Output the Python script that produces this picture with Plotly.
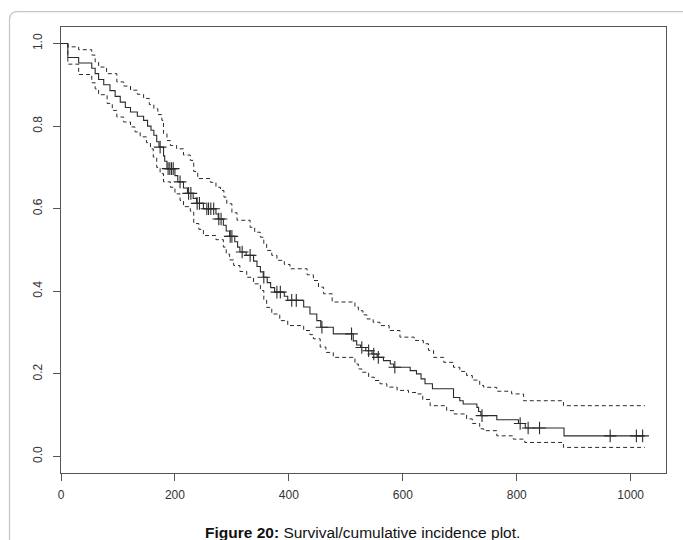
import plotly.graph_objects as go

# Kaplan-Meier estimate (step starts)
km_time = [0, 12, 31, 54, 60, 66, 75, 86, 95, 104, 113, 122, 134, 145, 152, 158, 163, 168, 172,
           180, 182, 186, 200, 205, 215, 222, 232, 238, 250, 272, 276, 285, 290, 296, 305, 310,
           314, 325, 338, 344, 350, 355, 362, 368, 375, 392, 398, 426, 437, 449, 456, 478, 513,
           519, 526, 535, 546, 555, 566, 578, 584, 613, 624, 632, 639, 652, 689, 700, 706, 730,
           733, 737, 765, 803, 815, 883, 1025]
km_surv = [1.0, 0.966, 0.953, 0.94, 0.927, 0.913, 0.90, 0.886, 0.872, 0.858, 0.845, 0.834, 0.824,
           0.814, 0.80, 0.79, 0.778, 0.762, 0.749, 0.728, 0.715, 0.697, 0.680, 0.665, 0.650, 0.637,
           0.625, 0.613, 0.600, 0.587, 0.575, 0.560, 0.546, 0.533, 0.520, 0.507, 0.495, 0.487,
           0.473, 0.460, 0.447, 0.434, 0.421, 0.409, 0.398, 0.388, 0.378, 0.362, 0.345, 0.329,
           0.313, 0.297, 0.280, 0.270, 0.264, 0.256, 0.248, 0.240, 0.232, 0.224, 0.216, 0.208,
           0.200, 0.188, 0.176, 0.164, 0.143, 0.135, 0.127, 0.119, 0.109, 0.099, 0.089, 0.080,
           0.069, 0.050, 0.050]

# Upper confidence limit
up_time = [0, 12, 31, 54, 60, 66, 80, 98, 110, 122, 134, 145, 155, 163, 170, 177, 180, 186, 192,
           203, 215, 227, 233, 240, 262, 272, 280, 286, 291, 300, 309, 332, 340, 350, 356, 361,
           370, 379, 392, 402, 432, 443, 452, 461, 476, 516, 522, 530, 537, 548, 560, 576, 595,
           620, 636, 645, 654, 672, 689, 700, 712, 722, 735, 742, 765, 791, 812, 882, 1025]
up_surv = [1.0, 0.992, 0.985, 0.972, 0.955, 0.943, 0.927, 0.907, 0.897, 0.887, 0.877, 0.867,
           0.852, 0.842, 0.828, 0.814, 0.782, 0.765, 0.753, 0.745, 0.730, 0.717, 0.690, 0.673,
           0.664, 0.652, 0.644, 0.628, 0.612, 0.590, 0.572, 0.555, 0.543, 0.531, 0.515, 0.499,
           0.487, 0.475, 0.465, 0.4545, 0.440, 0.426, 0.410, 0.394, 0.374, 0.362, 0.353, 0.343,
           0.333, 0.325, 0.317, 0.305, 0.289, 0.281, 0.273, 0.257, 0.240, 0.228, 0.216, 0.206,
           0.196, 0.185, 0.172, 0.1675, 0.158, 0.1515, 0.135, 0.123, 0.123]

# Lower confidence limit
lo_time = [0, 12, 31, 54, 60, 66, 81, 90, 98, 110, 122, 130, 139, 150, 157, 162, 168, 174, 180,
           192, 200, 209, 215, 227, 233, 242, 250, 272, 285, 290, 296, 303, 314, 326, 338, 350,
           356, 361, 370, 384, 398, 426, 437, 443, 455, 465, 478, 516, 522, 528, 540, 550, 560,
           572, 590, 610, 624, 635, 648, 677, 690, 712, 722, 735, 742, 765, 794, 814, 882, 1025]
lo_surv = [1.0, 0.950, 0.925, 0.905, 0.89, 0.876, 0.855, 0.838, 0.822, 0.810, 0.798, 0.786,
           0.774, 0.760, 0.745, 0.725, 0.700, 0.685, 0.665, 0.652, 0.636, 0.620, 0.605, 0.594,
           0.564, 0.550, 0.535, 0.525, 0.507, 0.49, 0.476, 0.4625, 0.448, 0.434, 0.418, 0.402,
           0.380, 0.361, 0.345, 0.329, 0.317, 0.305, 0.295, 0.285, 0.265, 0.252, 0.240, 0.224,
           0.212, 0.204, 0.192, 0.184, 0.176, 0.168, 0.160, 0.155, 0.1515, 0.138, 0.123, 0.111,
           0.103, 0.091, 0.080, 0.067, 0.0625, 0.050, 0.042, 0.034, 0.022, 0.022]

# Censoring times
censor_time = [174, 188, 191, 194, 197, 209, 224, 228, 239, 243, 256, 259, 263, 268, 277, 281,
               297, 300, 318, 332, 356, 379, 385, 405, 413, 458, 510, 528, 540, 549, 557, 586,
               739, 806, 820, 840, 964, 1010, 1021]

x_ticks = [0, 200, 400, 600, 800, 1000]
y_ticks = [0.0, 0.2, 0.4, 0.6, 0.8, 1.0]
caption_bold = "Figure 20:"
caption_text = " Survival/cumulative incidence plot."


def surv_at(t):
    s = km_surv[0]
    for tt, ss in zip(km_time, km_surv):
        if tt <= t:
            s = ss
        else:
            break
    return s


censor_surv = [surv_at(t) for t in censor_time]

LINE = "#2b2b2b"
fig = go.Figure()
fig.add_trace(go.Scatter(x=up_time, y=up_surv, mode="lines", line_shape="hv",
                         line=dict(color=LINE, width=1, dash="4px,3px"), hoverinfo="skip"))
fig.add_trace(go.Scatter(x=lo_time, y=lo_surv, mode="lines", line_shape="hv",
                         line=dict(color=LINE, width=1, dash="4px,3px"), hoverinfo="skip"))
fig.add_trace(go.Scatter(x=km_time, y=km_surv, mode="lines", line_shape="hv",
                         line=dict(color=LINE, width=1.1)))
fig.add_trace(go.Scatter(x=censor_time, y=censor_surv, mode="markers",
                         marker=dict(symbol="cross-thin", size=9,
                                     line=dict(width=1.1, color=LINE))))

axis_font = dict(family="Liberation Sans, Arial, sans-serif", size=12, color="#333")
fig.update_layout(
    width=683, height=540,
    margin=dict(l=61, r=17, t=27, b=67),
    paper_bgcolor="white", plot_bgcolor="white",
    showlegend=False,
    xaxis=dict(range=[0, 1062], tickvals=x_ticks, ticktext=[str(v) for v in x_ticks],
               showgrid=False, zeroline=False, showline=True, mirror=True,
               linecolor="#555", linewidth=1, ticks="outside", ticklen=7,
               tickcolor="#555", tickfont=axis_font, ticklabelstandoff=4),
    yaxis=dict(range=[-0.04, 1.04], tickvals=y_ticks, ticktext=[f"{v:.1f}" for v in y_ticks],
               tickangle=-90,
               showgrid=False, zeroline=False, showline=True, mirror=True,
               linecolor="#555", linewidth=1, ticks="outside", ticklen=7,
               tickcolor="#555", tickfont=axis_font, ticklabelstandoff=6),
)

# outer page frame (rounded top-left corner)
x0 = (9.5 - 61) / 605
y1 = (473 - 11.7) / 446
rx, ry = 8 / 605, 8 / 446
fig.add_shape(type="path", xref="paper", yref="paper",
              path=f"M {x0},-0.25 L {x0},{y1 - ry} Q {x0},{y1} {x0 + rx},{y1} L 1.1,{y1}",
              line=dict(color="#c4c4c4", width=1.2))

fig.add_annotation(xref="paper", yref="paper", x=(362 - 61) / 605, y=(473 - 532) / 446,
                   text=f"<b>{caption_bold}</b>{caption_text}", showarrow=False,
                   font=dict(family="Liberation Sans Narrow, Arial Narrow, Liberation Sans, Arial",
                             size=15.5, color="#111"),
                   xanchor="center", yanchor="middle")

fig.write_html("out.html", config={"displayModeBar": False},
               post_script="document.body.style.margin='0';document.body.style.overflow='hidden';")
